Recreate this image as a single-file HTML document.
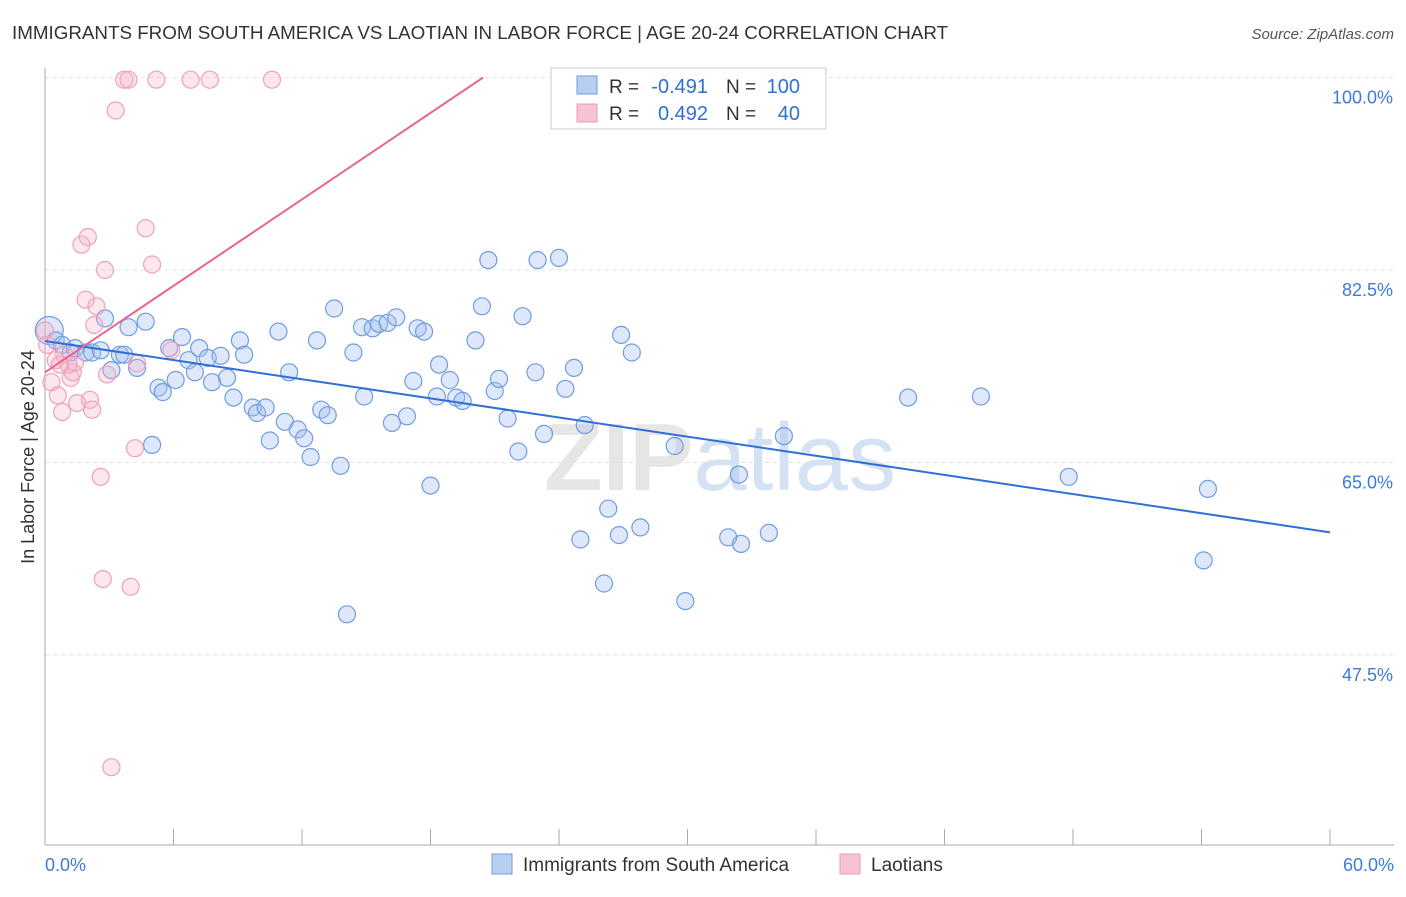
<!DOCTYPE html>
<html><head><meta charset="utf-8"><style>
body{margin:0;background:#fff;font-family:"Liberation Sans",sans-serif;}
svg text{font-family:"Liberation Sans",sans-serif;}
</style></head><body>
<svg id="chart" width="1406" height="892" xmlns="http://www.w3.org/2000/svg">
<text x="12" y="39" font-size="18.8" fill="#333">IMMIGRANTS FROM SOUTH AMERICA VS LAOTIAN IN LABOR FORCE | AGE 20-24 CORRELATION CHART</text>
<text x="1394" y="39" font-size="15" fill="#555" text-anchor="end" font-style="italic">Source: ZipAtlas.com</text>
<text x="720" y="490" font-size="96" fill="#e6e6e6" text-anchor="middle" font-family="Liberation Serif" font-weight="bold">ZIP<tspan fill="#d4e2f4" font-family="Liberation Sans" font-weight="normal">atlas</tspan></text>
<g id="grid"></g><g id="axes"></g><g id="pts"></g><g id="lines"></g>
<text transform="translate(34,457) rotate(-90)" font-size="18" fill="#333" text-anchor="middle">In Labor Force | Age 20-24</text>
<g>
<rect x="551" y="68" width="275" height="61" fill="#fff" stroke="#ccc"/>
<rect x="577" y="76" width="20" height="18" fill="#b8cff2" stroke="#6f9de0"/>
<rect x="577" y="104" width="20" height="18" fill="#f7c2d3" stroke="#ef9ab5"/>
<text x="609" y="93" font-size="19" fill="#333">R =</text>
<text x="708" y="93" font-size="20" fill="#2f6fd6" text-anchor="end">-0.491</text>
<text x="726" y="93" font-size="19" fill="#333">N =</text>
<text x="800" y="93" font-size="20" fill="#2f6fd6" text-anchor="end">100</text>
<text x="609" y="120" font-size="19" fill="#333">R =</text>
<text x="708" y="120" font-size="20" fill="#2f6fd6" text-anchor="end">0.492</text>
<text x="726" y="120" font-size="19" fill="#333">N =</text>
<text x="800" y="120" font-size="20" fill="#2f6fd6" text-anchor="end">40</text>
</g>
<g>
<rect x="492" y="854" width="20" height="20" fill="#b8cff2" stroke="#6f9de0"/>
<text x="523" y="871" font-size="19" fill="#333">Immigrants from South America</text>
<rect x="840" y="854" width="20" height="20" fill="#f7c2d3" stroke="#ef9ab5"/>
<text x="871" y="871" font-size="19" fill="#333">Laotians</text>
</g>
</svg>
<script>
const blueX=[0.2,0.5,0.8,1.2,1.4,1.9,2.2,2.6,2.8,3.1,3.5,3.7,3.9,4.3,4.7,5.0,5.3,5.5,5.8,6.1,6.4,6.7,7.0,7.2,7.6,7.8,8.2,8.5,8.8,9.1,9.3,9.7,9.9,10.3,10.5,10.9,11.2,11.4,11.8,12.1,12.4,12.7,12.9,13.2,13.5,13.8,14.1,14.4,14.8,14.9,15.3,15.6,16.0,16.2,16.4,16.9,17.2,17.4,17.7,18.0,18.3,18.4,18.9,19.2,19.5,20.1,20.4,20.7,21.0,21.2,21.6,22.1,22.3,22.9,23.0,23.3,24.0,24.3,24.7,25.0,25.2,26.1,26.3,26.8,26.9,27.4,27.8,29.4,29.9,31.9,32.4,32.5,33.8,34.5,40.3,43.7,47.8,54.1,54.3];
const blueY=[77.0,76.1,75.7,75.0,75.4,75.0,75.0,75.2,78.1,73.4,74.8,74.8,77.3,73.6,77.8,66.6,71.8,71.4,75.4,72.5,76.4,74.3,73.2,75.4,74.5,72.3,74.7,72.7,70.9,76.1,74.8,70.0,69.5,70.0,67.0,76.9,68.7,73.2,68.0,67.2,65.5,76.1,69.8,69.3,79.0,64.7,51.2,75.0,77.3,71.0,77.2,77.6,77.7,68.6,78.2,69.2,72.4,77.2,76.9,62.9,71.0,73.9,72.5,70.9,70.6,76.1,79.2,83.4,71.5,72.6,69.0,66.0,78.3,73.2,83.4,67.6,83.6,71.7,73.6,58.0,68.4,54.0,60.8,58.4,76.6,75.0,59.1,66.5,52.4,58.2,63.9,57.6,58.6,67.4,70.9,71.0,63.7,56.1,62.6];
const pinkX=[0,0.1,0.3,0.5,0.6,0.8,0.9,1.2,1.3,1.4,1.5,1.7,1.9,2.0,2.1,2.2,2.3,2.4,2.6,2.7,2.8,2.9,3.1,3.3,3.7,3.9,4.0,4.2,4.3,4.7,5.0,5.2,5.9,6.8,7.7,10.6,1.1,0.7];
const pinkY=[77.0,75.7,72.3,74.3,71.1,69.6,74.8,72.7,73.2,74.1,70.4,84.8,79.8,85.5,70.7,69.8,77.5,79.2,63.7,54.4,82.5,73.0,37.3,97.0,99.8,99.8,53.7,66.3,74.0,86.3,83.0,99.8,75.2,99.8,99.8,99.8,73.9,73.9];
const blueTrend=[76.05,-0.29];
const pinkTrend=[73.2,1.31];
const yTicks=[100,82.5,65,47.5];
const xTickLabels=["0.0%","60.0%"];
const NS="http://www.w3.org/2000/svg";
const sx=v=>45+v*(1285/60), sy=v=>77.5+(100-v)*11;
function mk(t,a,p){const e=document.createElementNS(NS,t);for(const k in a)e.setAttribute(k,a[k]);p.appendChild(e);return e;}
const grid=document.getElementById('grid'),axes=document.getElementById('axes');
yTicks.forEach(v=>{
 const l=mk('line',{x1:45,x2:1394,y1:sy(v),y2:sy(v),stroke:'#e3e3e3','stroke-dasharray':'4,4'},grid);
 
 
 const t=mk('text',{x:1393,y:sy(v)+26,'font-size':18,fill:'#3d7bd9','text-anchor':'end'},axes);
 t.textContent=v.toFixed(1)+'%';
 
 
});
mk('line',{x1:45,x2:45,y1:68,y2:845,stroke:'#aaa'},axes);
mk('line',{x1:45,x2:1394,y1:845,y2:845,stroke:'#aaa'},axes);
for(let i=0;i<=10;i++){const x=45+i*128.5;mk('line',{x1:x,x2:x,y1:829,y2:845,stroke:'#aaa'},axes);}
[[45,'start',0],[1394,'end',1]].forEach(([x,a,i])=>{const t=mk('text',{x:x,y:871,'font-size':18,fill:'#3d7bd9','text-anchor':a},axes);t.textContent=xTickLabels[i];
 
 });
const pts=document.getElementById('pts');
blueX.forEach((x,i)=>{const c=mk('circle',{cx:sx(x),cy:sy(blueY[i]),r:i===0?14:8.5,fill:'rgba(160,190,240,0.35)',stroke:'#6f9de0','stroke-width':1.2},pts);
 
 });
pinkX.forEach((x,i)=>{const c=mk('circle',{cx:sx(x),cy:sy(pinkY[i]),r:8.5,fill:'rgba(245,175,200,0.3)',stroke:'#f0a0ba','stroke-width':1.2},pts);
 
 });
const lines=document.getElementById('lines');
const bl=mk('line',{x1:sx(0),y1:sy(blueTrend[0]),x2:sx(60),y2:sy(blueTrend[0]+blueTrend[1]*60),stroke:'#2f6fd6','stroke-width':2},lines);


const pe=(100-pinkTrend[0])/pinkTrend[1];
const pl=mk('line',{x1:sx(0),y1:sy(pinkTrend[0]),x2:sx(pe),y2:sy(100),stroke:'#e8668e','stroke-width':2},lines);


</script>
</body></html>
